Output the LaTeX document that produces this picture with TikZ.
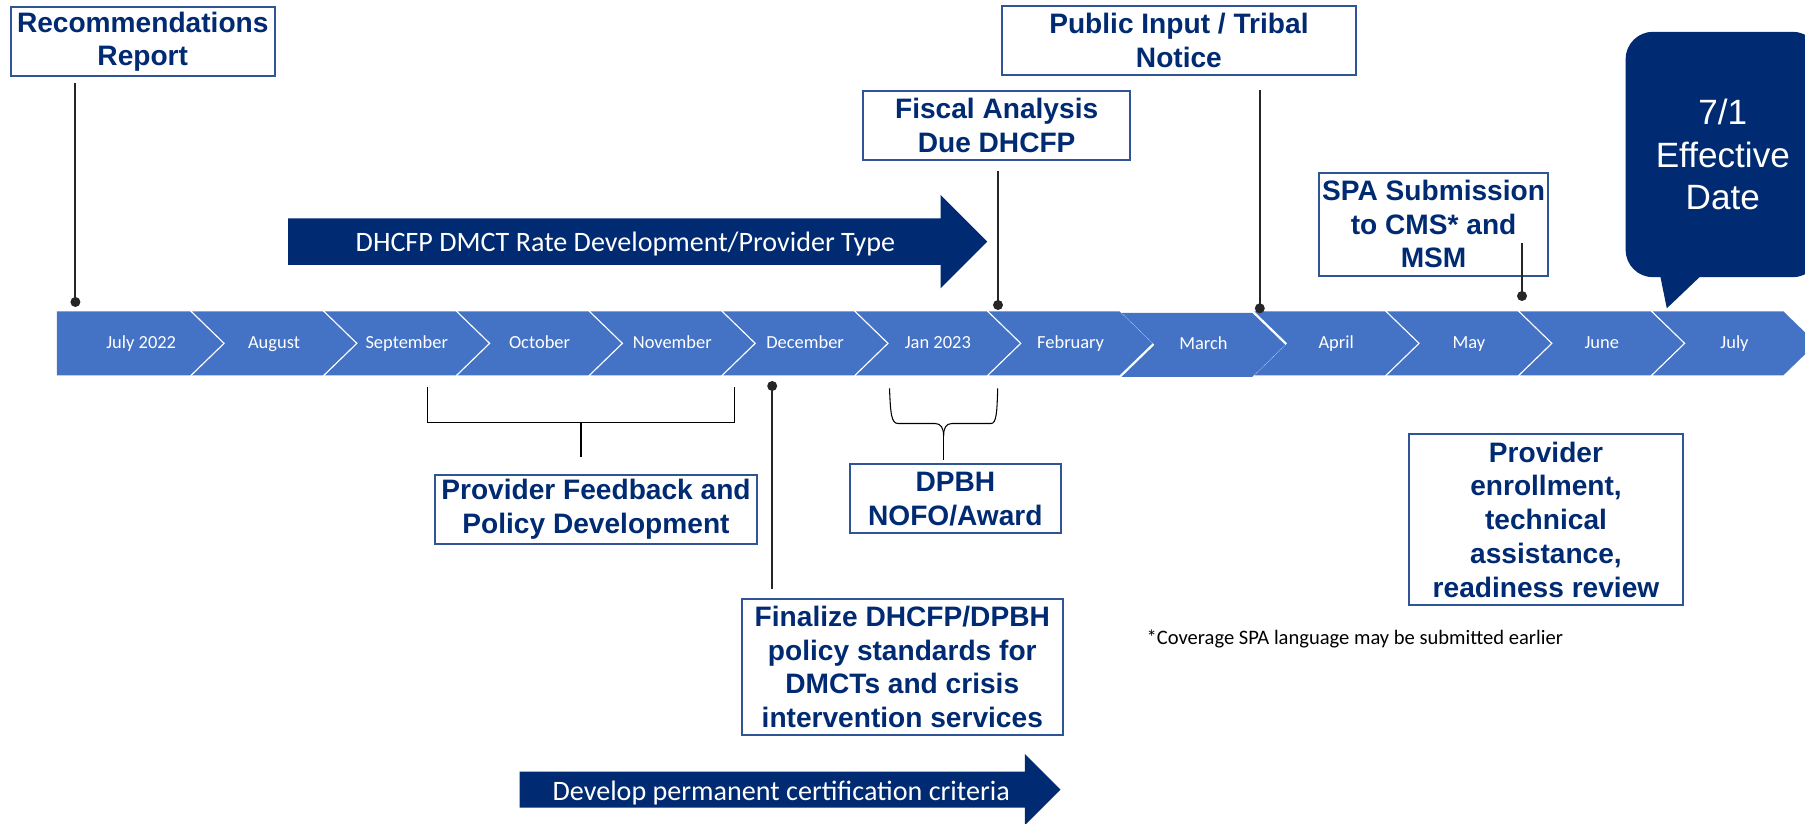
\documentclass[tikz,border=0pt]{standalone}
\usepackage{fontspec}
\setmainfont{Carlito}
\newfontfamily\boxfont{Liberation Sans}
\usepackage{xcolor}
\usetikzlibrary{positioning}
\definecolor{navy}{HTML}{002A72}
\definecolor{boxline}{HTML}{2F5597}
\definecolor{chevblue}{HTML}{4472C4}
\definecolor{pinline}{HTML}{262626}
\pgfdeclarelayer{back}
\pgfsetlayers{back,main}
\tikzset{
	box_style/.style = {shape=rectangle, draw=boxline, line width=1.2pt, fill=white, inner sep=0pt, align=center, text=navy, font=\boxfont\bfseries\fontsize{16}{19.2}\selectfont},
	month_style/.style = {shape=rectangle, inner sep=0pt, minimum width=2.6cm, minimum height=1.266cm, text height=1.5ex, text depth=0.3ex, text=white, font=\fontsize{10.5}{12}\selectfont},
	chev_style/.style = {fill=chevblue},
	band_style/.style = {fill=navy},
	band_text/.style = {inner sep=0pt, text=white, font=\fontsize{16}{19}\selectfont},
	dot_style/.style = {shape=circle, fill=pinline, inner sep=0pt, minimum size=0.2cm},
	pin_style/.style = {draw=pinline, line width=1.1pt},
	bracket_style/.style = {draw=black, line width=0.6pt}
}
\begin{document}
\begin{tikzpicture}[
    x=0.02cm,
    y=-0.02cm,
    node distance=2.656cm,
    callout_style/.style={
        shape=rectangle,
        rounded corners=0.55cm,
        fill=navy,
        minimum width=3.89cm,
        minimum height=4.91cm,
        align=center,
        text=white,
        font=\boxfont\fontsize{20}{24.2}\selectfont
        },
    note_style/.style={
        inner sep=0pt,
        font=\fontsize{11.7}{14}\selectfont
        }]
    \useasboundingbox (0,0) rectangle (1805,824);
    \clip (0,0) rectangle (1805,824);

    \node[month_style] (m0) at (141.2,343.35) {July 2022};
    \node[month_style, right of=m0] (m1) {August};
    \node[month_style, right of=m1] (m2) {September};
    \node[month_style, right of=m2] (m3) {October};
    \node[month_style, right of=m3] (m4) {November};
    \node[month_style, right of=m4] (m5) {December};
    \node[month_style, right of=m5] (m6) {Jan 2023};
    \node[month_style, right of=m6] (m7) {February};
    \node[month_style, right of=m7, yshift=-0.03cm] (m8) {March};
    \node[month_style, right of=m8, yshift=0.03cm] (m9) {April};
    \node[month_style, right of=m9] (m10) {May};
    \node[month_style, right of=m10] (m11) {June};
    \node[month_style, right of=m11] (m12) {July};

    \begin{pgfonlayer}{back}
    \fill[chev_style] ([xshift=-0.38cm]m0.north west) -- ([xshift=-0.33cm]m0.north east) -- ([xshift=0.33cm]m0.east) -- ([xshift=-0.33cm]m0.south east) -- ([xshift=-0.38cm]m0.south west) -- cycle;
    \foreach \m in {m1,m2,m3,m4,m5,m6,m7,m8,m9,m10,m11,m12}
        \fill[chev_style] ([xshift=-0.33cm]\m.north west) -- ([xshift=-0.33cm]\m.north east) -- ([xshift=0.33cm]\m.east) -- ([xshift=-0.33cm]\m.south east) -- ([xshift=-0.33cm]\m.south west) -- ([xshift=0.33cm]\m.west) -- cycle;
    \end{pgfonlayer}

    \fill[band_style] (288.2,218.3) -- (940.6,218.3) -- (940.6,195) -- (987.3,241.65) -- (940.6,288.3) -- (940.6,265) -- (288.2,265) -- cycle;
    \node[band_text] (rate) at (625.4,244.5) {DHCFP DMCT Rate Development/Provider Type};
    \fill[band_style] (519.7,771.7) -- (1024.8,771.7) -- (1024.8,754) -- (1060.5,789.7) -- (1024.8,825.4) -- (1024.8,807.7) -- (519.7,807.7) -- cycle;
    \node[band_text] (cert) at (781.2,792.5) {Develop permanent certification criteria};

    \node[box_style, minimum width=5.28cm, minimum height=1.37cm] (rec) at (142.75,41.65) {Recommendations\\Report};
    \node[box_style, minimum width=7.08cm, minimum height=1.38cm] (public) at (1178.9,40.5) {Public Input / Tribal\\Notice};
    \node[box_style, minimum width=5.33cm, minimum height=1.39cm] (fiscal) at (996.65,125.35) {Fiscal Analysis\\Due DHCFP};
    \node[box_style, minimum width=4.59cm, minimum height=2.06cm] (spa) at (1433.6,224.2) {SPA Submission\\to CMS* and\\MSM};
    \node[box_style, minimum width=6.44cm, minimum height=1.38cm] (feedback) at (596,509.5) {Provider Feedback and\\Policy Development};
    \node[box_style, minimum width=4.23cm, minimum height=1.38cm] (dpbh) at (955.35,498.8) {DPBH\\NOFO/Award};
    \node[box_style, minimum width=6.43cm, minimum height=2.72cm] (finalize) at (902.3,667) {Finalize DHCFP/DPBH\\policy standards for\\DMCTs and crisis\\intervention services};
    \node[box_style, minimum width=5.47cm, minimum height=3.42cm] (enroll) at (1546,519.5) {Provider\\enrollment,\\technical\\assistance,\\readiness review};

    \node[callout_style] (eff) at (1722.8,154.5) {7/1\\Effective\\Date};
    \fill[navy] (1659,270) -- (1666.8,308.3) -- (1707,270) -- cycle;

    \node[note_style, anchor=west] (note) at (1146.3,639) {*Coverage SPA language may be submitted earlier};

    \node[dot_style] (rec_dot) at (75.4,302) {};
    \node[dot_style] (fiscal_dot) at (998,305) {};
    \node[dot_style] (public_dot) at (1259.8,308.3) {};
    \node[dot_style] (spa_dot) at (1522,296) {};
    \node[dot_style] (dec_dot) at (772.2,386) {};

    \draw[pin_style, shorten >=0.12cm] (rec_dot.center) -- (rec_dot |- rec.south);
    \draw[pin_style, shorten >=0.2cm] (fiscal_dot.center) -- (fiscal_dot |- fiscal.south);
    \draw[pin_style, shorten >=0.27cm] (public_dot.center) -- (public_dot |- public.south);
    \draw[pin_style, shorten >=-0.68cm] (spa_dot.center) -- (spa_dot |- spa.south);
    \draw[pin_style, shorten >=0.18cm] (dec_dot.center) -- (dec_dot |- finalize.north);

    \coordinate (fb_left) at (427.5,386.7);
    \coordinate (fb_right) at (734.7,386.7);
    \coordinate (fb_mid) at (581,422.3);
    \draw[bracket_style] (fb_left) |- (fb_right |- fb_mid) -- (fb_right);
    \draw[bracket_style, shorten >=0.33cm] (fb_mid) -- (fb_mid |- feedback.north);

    \coordinate (dpbh_tip) at (943.6,436);
    \draw[bracket_style] (889.5,388.3) .. controls (890.5,412) and (891,423.5) .. (898,423.5) -- (935,423.5) .. controls (941,423.5) and (943.6,428) .. (dpbh_tip);
    \draw[bracket_style] (997.7,388.3) .. controls (997,412) and (996.5,423.5) .. (991,423.5) -- (952,423.5) .. controls (946,423.5) and (943.6,428) .. (dpbh_tip);
    \draw[bracket_style, shorten >=0.07cm] (dpbh_tip) -- (dpbh_tip |- dpbh.north);
\end{tikzpicture}
\end{document}
